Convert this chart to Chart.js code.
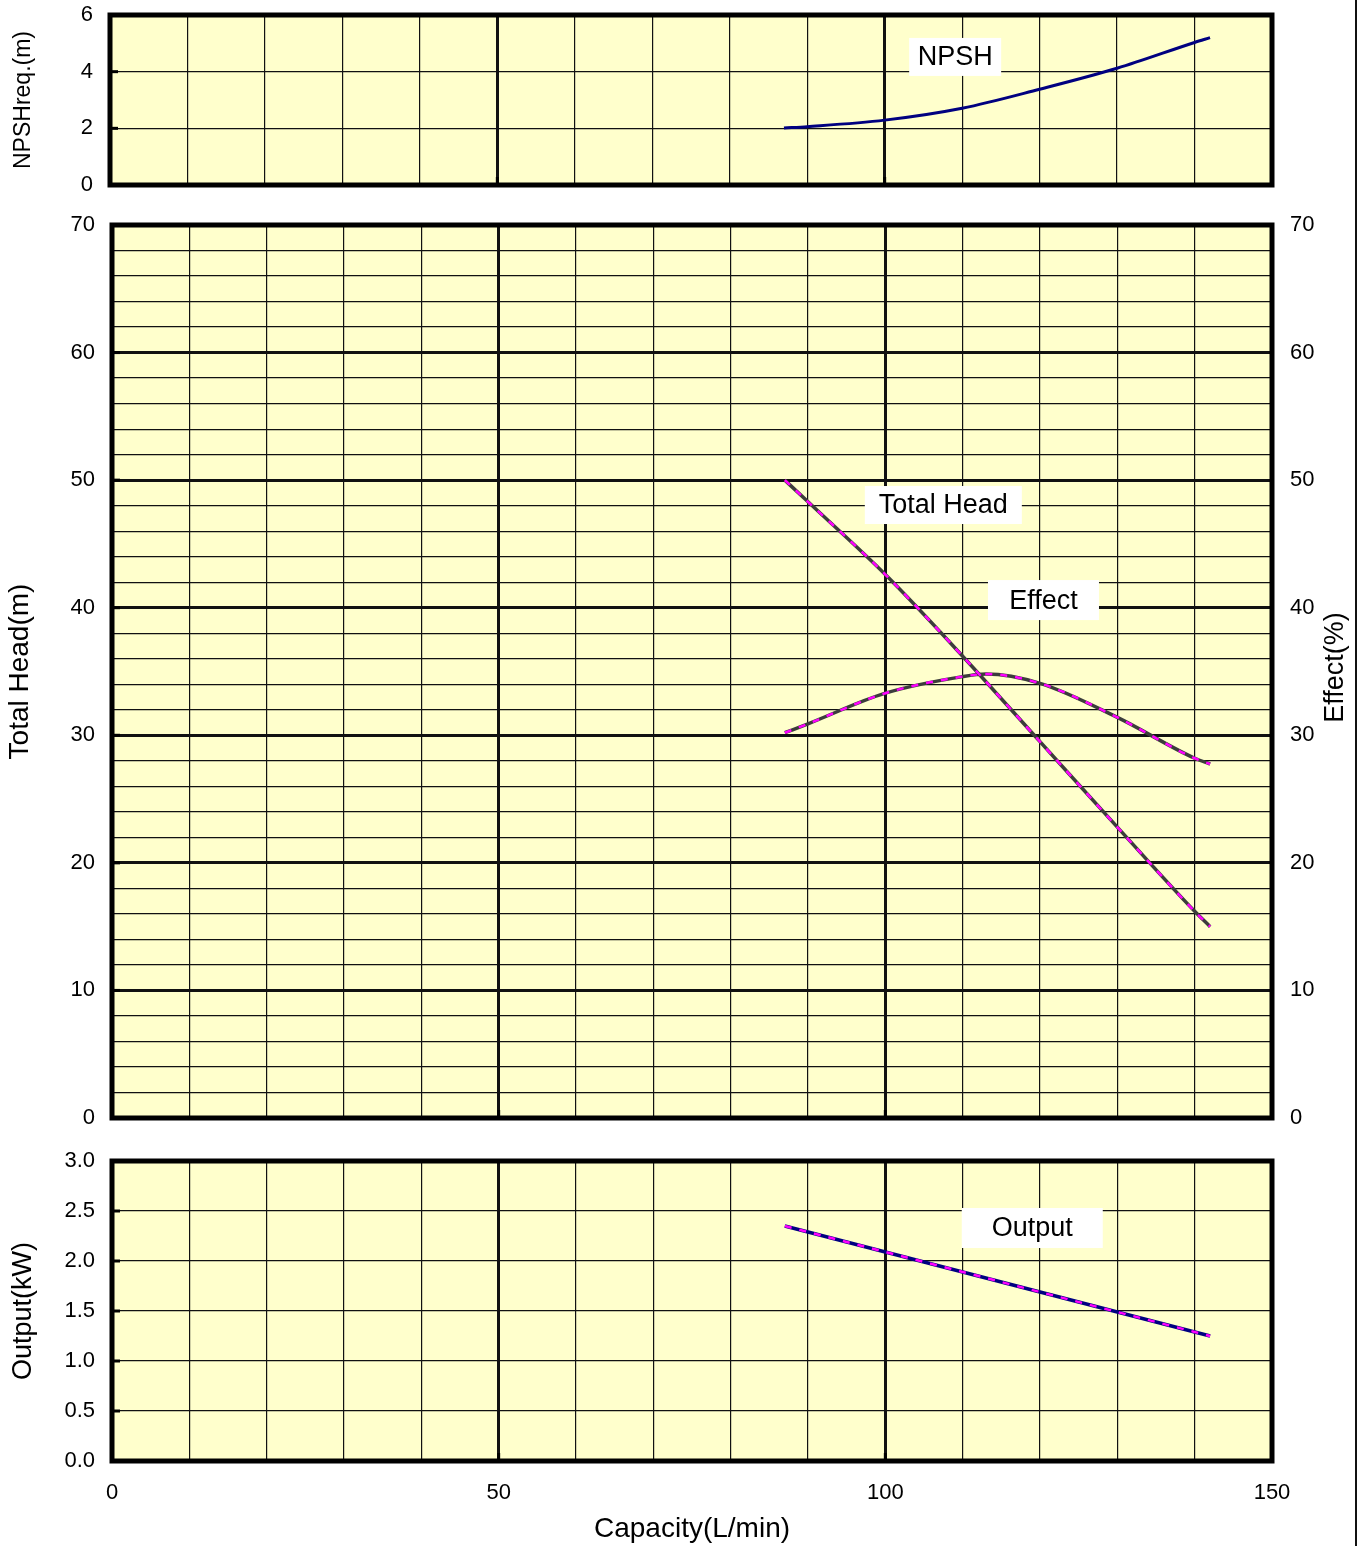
<!DOCTYPE html>
<html>
<head>
<meta charset="utf-8">
<script src="https://cdn.jsdelivr.net/npm/chart.js@4.4.1/dist/chart.umd.min.js"></script>
<style>
html,body{margin:0;padding:0;background:#fff;}
#wrap{position:relative;width:1365px;height:1546px;overflow:hidden;background:#fff;}
canvas{position:absolute;left:0;}
#edge{position:absolute;left:1355px;top:0;width:0;height:1546px;border-left:2px solid #111;}
</style>
</head>
<body>
<div id="wrap">
  <canvas id="cNpsh" width="1365" height="200" style="top:0px;width:1365px;height:200px;"></canvas>
  <canvas id="cHead" width="1365" height="940" style="top:200px;width:1365px;height:940px;"></canvas>
  <canvas id="cOut" width="1365" height="406" style="top:1140px;width:1365px;height:406px;"></canvas>
  <div id="edge"></div>
</div>
<script>
// ---- data ----
const capacity  = [87, 90, 100, 110, 120, 130, 140, 142];              // L/min
const npshReq   = [2.01, 2.06, 2.29, 2.71, 3.38, 4.12, 5.03, 5.20];    // m
const totalHead = [50.0, 48.3, 42.6, 36.2, 29.5, 22.8, 16.2, 15.0];    // m
const output    = [2.35, 2.29, 2.09, 1.89, 1.69, 1.49, 1.29, 1.25];    // kW
const effectCapacity = [87, 90, 100, 110, 113, 120, 130, 140, 142];    // L/min
const effect    = [30.2, 30.9, 33.3, 34.6, 34.8, 34.07, 31.4, 28.2, 27.75]; // %
const xTicksShown = [0, 50, 100, 150];
const npshTicks = [0, 2, 4, 6];
const headTicks = [0, 10, 20, 30, 40, 50, 60, 70];
const outTicks  = ['0.0', '0.5', '1.0', '1.5', '2.0', '2.5', '3.0'];

const FONT = "'Liberation Sans', Arial, sans-serif";
const pts = (xs, ys) => xs.map((x, i) => ({x: x, y: ys[i]}));

// ---- plugin: background, frame, nubs, labels ----
const framePlugin = {
  id: 'frame',
  beforeDraw(chart) {
    const {ctx, chartArea: a} = chart;
    ctx.save();
    ctx.fillStyle = '#FFFFCC';
    ctx.fillRect(a.left, a.top, a.right - a.left, a.bottom - a.top);
    ctx.restore();
  },
  afterDraw(chart, args, opts) {
    const {ctx, chartArea: a} = chart;
    ctx.save();
    ctx.strokeStyle = '#000';
    ctx.lineWidth = 5;
    ctx.lineJoin = 'miter';
    ctx.strokeRect(a.left, a.top, a.right - a.left, a.bottom - a.top);
    ctx.lineWidth = 3;
    const ys = chart.scales.y, xs = chart.scales.x;
    (opts.yNubs || []).forEach(v => {
      const p = ys.getPixelForValue(v);
      ctx.beginPath(); ctx.moveTo(a.left, p); ctx.lineTo(a.left + 8, p); ctx.stroke();
    });
    (opts.xNubs || []).forEach(v => {
      const p = xs.getPixelForValue(v);
      ctx.beginPath(); ctx.moveTo(p, a.bottom); ctx.lineTo(p, a.bottom - 8); ctx.stroke();
    });
    (opts.labels || []).forEach(l => {
      const cx = xs.getPixelForValue(l.x), cy = ys.getPixelForValue(l.y);
      ctx.fillStyle = '#fff';
      ctx.fillRect(cx - l.w / 2, cy - l.h / 2, l.w, l.h);
      ctx.fillStyle = '#000';
      ctx.font = '27px ' + FONT;
      ctx.textAlign = 'center';
      ctx.textBaseline = 'middle';
      ctx.fillText(l.text, cx, cy + 1);
    });
    if (opts.rightTitle) {
      ctx.save();
      ctx.translate(opts.rightTitle.x, (a.top + a.bottom) / 2 - 4);
      ctx.rotate(-Math.PI / 2);
      ctx.fillStyle = '#000';
      ctx.font = '27px ' + FONT;
      ctx.textAlign = 'center';
      ctx.textBaseline = 'middle';
      ctx.fillText(opts.rightTitle.text, 0, 0);
      ctx.restore();
    }
    ctx.restore();
  }
};

function gridW(major) {
  return c => (c.tick && Math.abs(c.tick.value % major) < 1e-6) ? 3 : 1.2;
}
function noPad(s) { s.paddingTop = 0; s.paddingBottom = 0; s.paddingLeft = 0; s.paddingRight = 0; }

function xScale(showLabels, h) {
  return {
    type: 'linear', min: 0, max: 150,
    ticks: {
      stepSize: 10, autoSkip: false, display: showLabels, maxRotation: 0,
      padding: 19, color: '#000', font: {family: FONT, size: 22},
      callback: v => xTicksShown.includes(v) ? String(v) : ''
    },
    grid: {drawTicks: false, color: '#111', lineWidth: gridW(50)},
    border: {display: false},
    title: showLabels ? {display: true, text: 'Capacity(L/min)', color: '#000',
      font: {family: FONT, size: 28}, padding: {top: 0, bottom: 0}} : {display: false},
    afterFit: s => { s.height = h; noPad(s); }
  };
}

function yScale(opt) {
  return {
    type: 'linear', position: 'left', min: opt.min, max: opt.max,
    ticks: {
      stepSize: opt.step, autoSkip: false, padding: opt.pad, color: '#000',
      font: {family: FONT, size: 22},
      callback: opt.cb
    },
    grid: {drawTicks: false, color: '#111', lineWidth: gridW(opt.major)},
    border: {display: false},
    title: {display: true, text: opt.title, color: '#000',
      font: {family: FONT, size: opt.tsize}, padding: {top: opt.tpad, bottom: 0}},
    afterFit: s => { s.width = opt.w; noPad(s); }
  };
}

const common = {
  responsive: false, animation: false, devicePixelRatio: 1,
  elements: {point: {radius: 0}, line: {cubicInterpolationMode: 'monotone'}}
};
const basePlugins = {legend: {display: false}, tooltip: {enabled: false}};
const DASH = {borderColor: '#FF00FF', borderWidth: 2.5, borderDash: [7, 8]};

// ---- NPSH chart ----
new Chart(document.getElementById('cNpsh'), {
  type: 'line',
  data: {datasets: [
    {data: pts(capacity, npshReq), borderColor: '#000080', borderWidth: 3}
  ]},
  options: Object.assign({}, common, {
    layout: {padding: {top: 15, right: 93, bottom: 15, left: 0}},
    scales: {
      x: xScale(false, 0),
      y: yScale({min: 0, max: 6, step: 2, major: 100, pad: 17, w: 110,
        cb: v => npshTicks.includes(v) ? String(v) : '',
        title: 'NPSHreq.(m)', tsize: 23, tpad: 10})
    },
    plugins: Object.assign({}, basePlugins, {frame: {
      yNubs: [2, 4], xNubs: [50, 100],
      labels: [{text: 'NPSH', x: 109.1, y: 4.52, w: 92, h: 38}]
    }})
  }),
  plugins: [framePlugin]
});

// ---- Total head / Effect chart ----
new Chart(document.getElementById('cHead'), {
  type: 'line',
  data: {datasets: [
    Object.assign({data: pts(capacity, totalHead), yAxisID: 'y'}, DASH),
    {data: pts(capacity, totalHead), borderColor: '#3c3c3c', borderWidth: 3.5, yAxisID: 'y'},
    Object.assign({data: pts(effectCapacity, effect), yAxisID: 'y2'}, DASH),
    {data: pts(effectCapacity, effect), borderColor: '#3c3c3c', borderWidth: 3.5, yAxisID: 'y2'}
  ]},
  options: Object.assign({}, common, {
    layout: {padding: {top: 25, right: 0, bottom: 22, left: 0}},
    scales: {
      x: xScale(false, 0),
      y: yScale({min: 0, max: 70, step: 2, major: 10, pad: 17, w: 112,
        cb: v => headTicks.includes(v) ? String(v) : '',
        title: 'Total Head(m)', tsize: 28, tpad: 3}),
      y2: {
        type: 'linear', position: 'right', min: 0, max: 70,
        ticks: {stepSize: 10, autoSkip: false, padding: 18, color: '#000',
          font: {family: FONT, size: 22}},
        grid: {display: false, drawTicks: false},
        border: {display: false},
        afterFit: s => { s.width = 93; noPad(s); }
      }
    },
    plugins: Object.assign({}, basePlugins, {frame: {
      yNubs: [10, 20, 30, 40, 50, 60], xNubs: [50, 100],
      labels: [
        {text: 'Total Head', x: 107.5, y: 48.05, w: 157, h: 38},
        {text: 'Effect', x: 120.45, y: 40.6, w: 111, h: 40}
      ],
      rightTitle: {text: 'Effect(%)', x: 1336}
    }})
  }),
  plugins: [framePlugin]
});

// ---- Output chart ----
new Chart(document.getElementById('cOut'), {
  type: 'line',
  data: {datasets: [
    Object.assign({data: pts(capacity, output)}, DASH),
    {data: pts(capacity, output), borderColor: '#000080', borderWidth: 3.5}
  ]},
  options: Object.assign({}, common, {
    layout: {padding: {top: 21, right: 93, bottom: 0, left: 0}},
    scales: {
      x: xScale(true, 85),
      y: yScale({min: 0, max: 3, step: 0.5, major: 100, pad: 17, w: 112,
        cb: v => outTicks.includes(v.toFixed(1)) ? v.toFixed(1) : '',
        title: 'Output(kW)', tsize: 27, tpad: 7})
    },
    plugins: Object.assign({}, basePlugins, {frame: {
      yNubs: [0.5, 1.0, 1.5, 2.0, 2.5], xNubs: [50, 100],
      labels: [{text: 'Output', x: 119.0, y: 2.33, w: 141, h: 40}]
    }})
  }),
  plugins: [framePlugin]
});
</script>
</body>
</html>
